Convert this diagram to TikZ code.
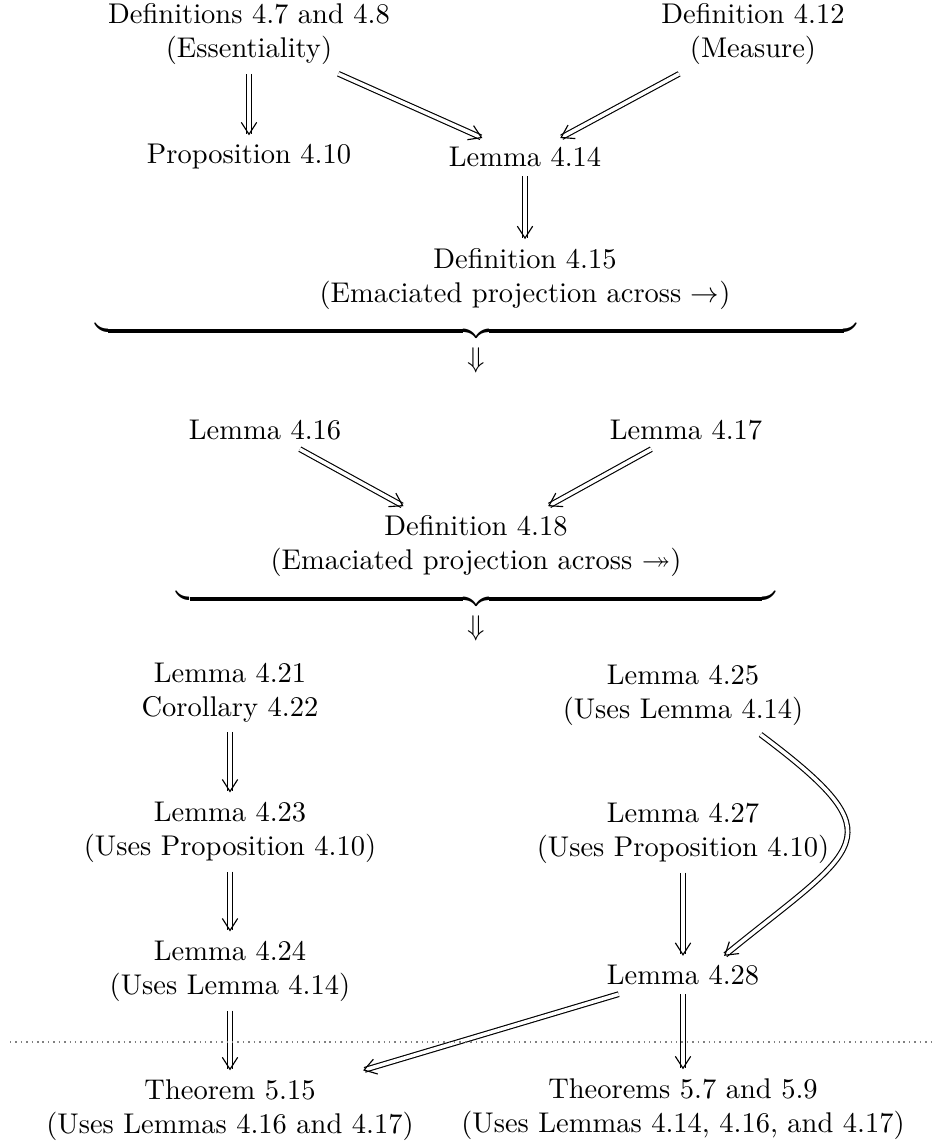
\documentclass[tikz,border=0pt]{standalone}
\usepackage{amsmath,amssymb}
\usetikzlibrary{arrows.meta}
\begin{document}
\begin{tikzpicture}[x=0.35088pt, y=-0.35088pt,
  txt/.style={align=center, inner xsep=3pt, inner ysep=3pt},
  imp/.style={double, double distance=1.25pt, line width=0.4pt, -{Straight Barb[length=4.2pt, width=5.4pt, line width=0.4pt]}},
  brc/.style={inner sep=0pt, anchor=north},
  sep/.style={gray, line width=0.6pt, dash pattern=on 0.5pt off 1.4pt}]
\useasboundingbox (0,0) rectangle (935,1144);
% top block
\node[txt] (D1) at (249,34) {Definitions 4.7 and 4.8\\(Essentiality)};
\node[txt] (D2) at (753,34) {Definition 4.12\\(Measure)};
\node[txt] (P) at (249,157) {Proposition 4.10};
\node[txt] (L14) at (525,157) {Lemma 4.14};
\node[txt] (D15) at (525,279) {Definition 4.15\\(Emaciated projection across $\to$)};
\draw[imp] (D1) -- (P);
\draw[imp] (D1) -- (L14);
\draw[imp] (D2) -- (L14);
\draw[imp] (L14) -- (D15);
\node[brc] (B1) at (476,320) {$\underbrace{\hbox to 267pt{}}$};
\node[inner sep=0pt] (A1) at (476,360) {$\Downarrow$};
% middle block
\node[txt] (L16) at (265,430) {Lemma 4.16};
\node[txt] (L17) at (686,430) {Lemma 4.17};
\node[txt] (D18) at (476,546) {Definition 4.18\\(Emaciated projection across $\twoheadrightarrow$)};
\draw[imp] (L16) -- (D18);
\draw[imp] (L17) -- (D18);
\node[brc] (B2) at (476,588) {$\underbrace{\hbox to 210pt{}}$};
\node[inner sep=0pt] (A2) at (476,628) {$\Downarrow$};
% bottom block
\node[txt] (L21) at (230,693) {Lemma 4.21\\Corollary 4.22};
\node[txt] (L25) at (683,695) {Lemma 4.25\\(Uses Lemma 4.14)};
\node[txt] (L23) at (230,832) {Lemma 4.23\\(Uses Proposition 4.10)};
\node[txt] (L27) at (683,833) {Lemma 4.27\\(Uses Proposition 4.10)};
\node[txt] (L24) at (230,971) {Lemma 4.24\\(Uses Lemma 4.14)};
\node[txt] (L28) at (683,975) {Lemma 4.28};
\node[txt] (T515) at (230,1110) {Theorem 5.15\\(Uses Lemmas 4.16 and 4.17)};
\node[txt] (T57) at (683,1109) {Theorems 5.7 and 5.9\\(Uses Lemmas 4.14, 4.16, and 4.17)};
\draw[imp] (L21) -- (L23);
\draw[imp] (L23) -- (L24);
\draw[imp] (L24) -- (T515);
\draw[imp] (L27) -- (L28);
\draw[imp] (L28) -- (T57);
\draw[imp] (L28) -- (T515);
\draw[imp] (L25.-27) .. controls +(140,105) and +(135,-110) .. (L28.25);
\coordinate (SL) at (10,1042);
\coordinate (SR) at (935,1042);
\draw[sep] (SL) -- (SR);
\end{tikzpicture}
\end{document}
